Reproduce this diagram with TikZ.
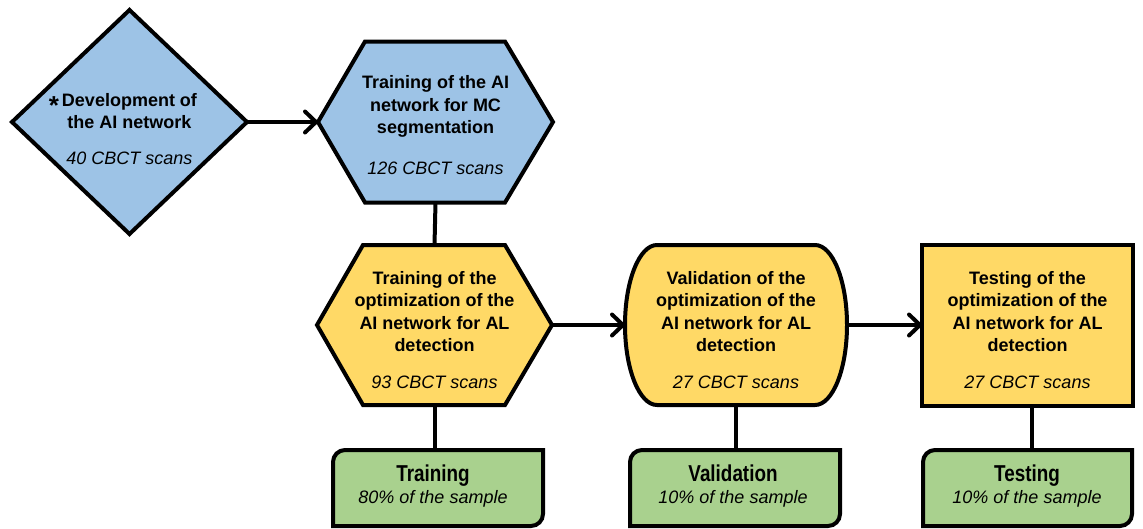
\documentclass[tikz,border=0pt]{standalone}
\usepackage{fontspec}
\setmainfont{Liberation Sans}
\usepackage{graphicx}
\usetikzlibrary{arrows.meta,backgrounds,calc}

\definecolor{boxblue}{RGB}{157,195,230}
\definecolor{boxgold}{RGB}{255,217,102}
\definecolor{boxgreen}{RGB}{169,209,142}

\tikzset{
  shapebox/.style={rectangle, inner sep=0pt, outer sep=0pt},
  outline/.style={draw=black, line width=4pt, line join=miter},
  txt/.style={align=center, inner sep=0pt, text=black,
              font=\fontsize{18}{22.5}\selectfont\bfseries},
  conn/.style={line width=4pt},
  arr/.style={conn, -{Straight Barb[length=11pt,width=21pt,round]}},
}

\newcommand{\scans}[1]{\itshape\mdseries #1}
\newcommand{\greentitle}[1]{{\fontsize{23}{22}\selectfont\scalebox{0.82}[1]{#1}}}
\newcommand{\bigstar}{{\fontsize{26}{22}\selectfont\raisebox{-0.62ex}{*}}}

\begin{document}
\begin{tikzpicture}[x=1pt,y=-1pt]
\useasboundingbox (0,0) rectangle (1143,528);

% frames of the steps
\node[shapebox, minimum width=235pt, minimum height=224pt] (dev)  at (129.5,122) {};
\node[shapebox, minimum width=235pt, minimum height=161pt] (segm) at (435.5,122) {};
\node[shapebox, minimum width=235pt, minimum height=160pt] (optt) at (434.5,325) {};
\node[shapebox, minimum width=222pt, minimum height=160pt] (optv) at (736,325) {};
\node[shapebox, minimum width=211pt, minimum height=161pt] (optx) at (1027.5,325) {};
\node[shapebox, minimum width=210pt, minimum height=76pt] (gtrain) at (438,488) {};
\node[shapebox, minimum width=210pt, minimum height=76pt] (gval)   at (735,488) {};
\node[shapebox, minimum width=209pt, minimum height=76pt] (gtest)  at (1027.5,488) {};

% texts
\node[txt] (devt) at (129.5,129)
  {\llap{\bigstar\,}Development of\\the AI network\\[13pt]\scans{40 CBCT scans}};
\node[txt] (segmt) at (435.5,125)
  {Training of the AI\\network for MC\\segmentation\\[18pt]\scans{126 CBCT scans}};
\node[txt] (opttt) at (434.5,330)
  {Training of the\\optimization of the\\AI network for AL\\detection\\[14pt]\scans{93 CBCT scans}};
\node[txt] (optvt) at (736,330)
  {Validation of the\\optimization of the\\AI network for AL\\detection\\[14pt]\scans{27 CBCT scans}};
\node[txt] (optxt) at (1027.5,330)
  {Testing of the\\optimization of the\\AI network for AL\\detection\\[14pt]\scans{27 CBCT scans}};
\node[txt, font=\fontsize{18}{22}\selectfont\bfseries] (gtraint) at (433,486)
  {\greentitle{Training}\\\scans{80\% of the sample}};
\node[txt, font=\fontsize{18}{22}\selectfont\bfseries] (gvalt) at (733,486)
  {\greentitle{Validation}\\\scans{10\% of the sample}};
\node[txt, font=\fontsize{18}{22}\selectfont\bfseries] (gtestt) at (1027,486)
  {\greentitle{Testing}\\\scans{10\% of the sample}};

% outlines
\begin{scope}[on background layer]
  \draw[outline, fill=boxblue] (dev.west) -- (dev.north) -- (dev.east) -- (dev.south) -- cycle;
  \draw[outline, fill=boxblue] (segm.west) -- ($(segm.north west)+(47,0)$)
    -- ($(segm.north east)+(-48,0)$) -- (segm.east) -- ($(segm.south east)+(-48,0)$)
    -- ($(segm.south west)+(47,0)$) -- cycle;
  \draw[outline, fill=boxgold] (optt.west) -- ($(optt.north west)+(46,0)$)
    -- ($(optt.north east)+(-47,0)$) -- (optt.east) -- ($(optt.south east)+(-47,0)$)
    -- ($(optt.south west)+(46,0)$) -- cycle;
  \draw[outline, fill=boxgold] ($(optv.north west)+(32,0)$) -- ($(optv.north east)+(-32,0)$)
    arc[start angle=90, end angle=-90, x radius=32pt, y radius=80pt]
    -- ($(optv.south west)+(32,0)$)
    arc[start angle=270, end angle=90, x radius=32pt, y radius=80pt] -- cycle;
  \draw[outline, fill=boxgold] (optx.north west) rectangle (optx.south east);
  \foreach \g in {gtrain,gval,gtest}{
    \draw[outline, fill=boxgreen] (\g.south west) -- ($(\g.north west)+(0,12)$)
      arc[start angle=180, end angle=90, radius=12pt]
      -- (\g.north east) -- ($(\g.south east)+(0,-12)$)
      arc[start angle=0, end angle=-90, radius=12pt] -- cycle;
  }
\end{scope}

% connectors
\draw[arr] (dev.east) -- (segm.west);
\draw[conn] (segm.south) -- (optt.north);
\draw[arr] (optt.east) -- (optv.west);
\draw[arr] (optv.east) -- (optx.west);
\draw[conn] (optt.south) -- (optt.south |- gtrain.north);
\draw[conn] (optv.south) -- (optv.south |- gval.north);
\draw[conn] ($(optx.south)+(4,0)$) -- ($(optx.south |- gtest.north)+(4,0)$);
\end{tikzpicture}
\end{document}
